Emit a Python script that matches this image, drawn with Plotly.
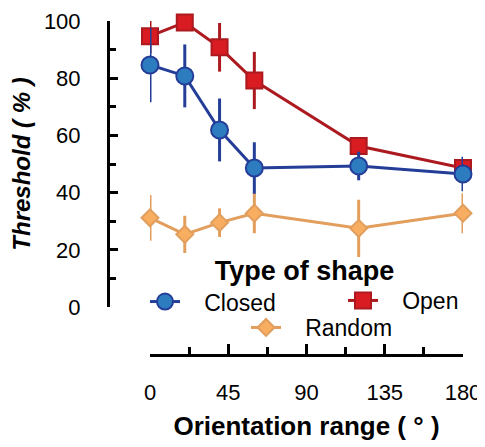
import plotly.graph_objects as go

# orientation range (deg) and threshold (%)
orientation = [0, 20, 40, 60, 120, 180]

closed = [84.6, 80.8, 61.9, 48.6, 49.3, 46.5]
closed_err = [13, 11, 11, 9, 5, 6]

open_ = [94.7, 99.5, 90.8, 79.2, 56.3, 48.6]
open_err = [6, 2, 8.5, 10, 3, 3]

random_ = [31.2, 25.4, 29.5, 32.8, 27.5, 32.8]
random_err = [8, 6.5, 5, 7, 10, 7]

x_ticks = [0, 45, 90, 135, 180]
y_ticks = [0, 20, 40, 60, 80, 100]

FONT = "Liberation Sans, Arial, sans-serif"

# the page puts the plot 8px in from the top left corner (body margin),
# so the figure is a bit smaller and everything is measured from there
W, H = 485, 447
OFF = 8
FW, FH = W - OFF, H - OFF


def px(x):
    return (x - OFF) / FW


def py(y):
    return 1 - (y - OFF) / FH


SERIES = {
    'Closed': {
        'y': closed, 'err': closed_err, 'symbol': 'circle', 'size': 17,
        'fill': 'rgb(46, 124, 192)', 'line': 'rgb(36, 62, 152)', 'legend': 'legend',
    },
    'Open': {
        'y': open_, 'err': open_err, 'symbol': 'square', 'size': 16,
        'fill': 'rgb(216, 28, 34)', 'line': 'rgb(172, 26, 32)', 'legend': 'legend3',
    },
    'Random': {
        'y': random_, 'err': random_err, 'symbol': 'diamond', 'size': 13,
        'fill': 'rgb(248, 174, 96)', 'line': 'rgb(226, 158, 92)', 'legend': 'legend2',
    },
}

# a few non-breaking spaces to push the legend text away from the symbol
PAD = '\u00a0' * 3

fig = go.Figure()

# Random at the bottom, Closed on top
for name in ['Random', 'Open', 'Closed']:
    s = SERIES[name]
    fig.add_trace(go.Scatter(
        x=orientation,
        y=s['y'],
        name=PAD + name,
        mode='lines+markers',
        line=dict(color=s['line'], width=3),
        marker=dict(symbol=s['symbol'], size=s['size'], color=s['fill'],
                    line=dict(color=s['line'], width=2)),
        error_y=dict(type='data', array=s['err'], color=s['line'],
                     thickness=3, width=0),
        cliponaxis=False,
        legend=s['legend'],
    ))

legend_common = dict(
    orientation='h',
    xanchor='left', yanchor='top',
    bgcolor='rgba(0,0,0,0)',
    font=dict(size=23),
    itemsizing='trace',
)

fig.update_layout(
    width=FW, height=FH,
    margin=dict(l=0, r=0, t=0, b=0),
    paper_bgcolor='white',
    plot_bgcolor='white',
    font=dict(family=FONT, size=22, color='black'),
    showlegend=True,
    xaxis=dict(
        domain=[px(150), px(463)],
        range=[0, 180],
        anchor='free',
        position=py(355),
        tickvals=x_ticks,
        ticks='inside', ticklen=10, tickwidth=2.5, tickcolor='black',
        minor=dict(dtick=22.5, tick0=0, ticks='inside', ticklen=7,
                   tickwidth=2.5, tickcolor='black'),
        showline=True, linewidth=3, linecolor='black',
        showgrid=False, zeroline=False,
        ticklabelstandoff=17,
        tickfont=dict(size=22),
        automargin=False,
        title=dict(text='<b>Orientation range ( ° )</b>',
                   font=dict(size=26), standoff=12),
    ),
    yaxis=dict(
        domain=[py(307), py(21)],
        range=[0, 100],
        anchor='free',
        position=px(108),
        tickvals=y_ticks,
        ticks='inside', ticklen=8, tickwidth=2.5, tickcolor='black',
        minor=dict(dtick=10, tick0=0, ticks='inside', ticklen=6,
                   tickwidth=2.5, tickcolor='black'),
        showline=True, linewidth=3, linecolor='black',
        showgrid=False, zeroline=False,
        ticklabelstandoff=22,
        tickfont=dict(size=22),
        automargin=False,
        title=dict(text='<b><i>Threshold ( % )</i></b>',
                   font=dict(size=24), standoff=5),
    ),
    # Closed + title, Open beside it, Random centred underneath
    legend=dict(
        legend_common,
        x=px(145), y=py(245),
        entrywidth=274,
        title=dict(text='<b>Type of shape</b>', side='top center',
                   font=dict(size=27)),
    ),
    legend3=dict(legend_common, x=px(343), y=py(279)),
    legend2=dict(legend_common, x=px(246), y=py(306)),
)

fig.write_html("out.html")
